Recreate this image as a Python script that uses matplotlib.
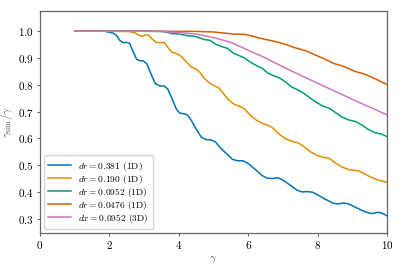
import matplotlib
matplotlib.use("Agg")
import matplotlib.pyplot as plt

plt.rcParams['font.family'] = 'serif'
plt.rcParams['font.serif'] = ['cmr10']
plt.rcParams['mathtext.fontset'] = 'cm'
plt.rcParams['axes.formatter.use_mathtext'] = True

# dr = 0.381 (1D)
x1 = [1.0, 1.5, 1.85, 2.0, 2.1, 2.2, 2.3, 2.4, 2.5, 2.58, 2.68, 2.78, 2.88, 2.98, 3.08, 3.2, 3.32,
      3.45, 3.58, 3.68, 3.8, 3.92, 4.02, 4.15, 4.25, 4.35, 4.5, 4.65, 4.78, 4.92, 5.05, 5.2, 5.4,
      5.55, 5.7, 5.85, 6.0, 6.2, 6.4, 6.55, 6.7, 6.85, 7.0, 7.2, 7.4, 7.55, 7.7, 7.85, 8.0, 8.2,
      8.45, 8.6, 8.75, 8.9, 9.1, 9.3, 9.5, 9.6, 9.75, 9.85, 10.0]
y1 = [1.0, 1.0, 1.0, 0.996, 0.993, 0.985, 0.965, 0.957, 0.958, 0.955, 0.925, 0.896, 0.890, 0.889,
      0.878, 0.84, 0.805, 0.796, 0.795, 0.785, 0.75, 0.712, 0.695, 0.692, 0.688, 0.67, 0.635, 0.605,
      0.596, 0.595, 0.588, 0.565, 0.54, 0.522, 0.517, 0.517, 0.507, 0.485, 0.462, 0.452, 0.451,
      0.454, 0.445, 0.427, 0.408, 0.401, 0.402, 0.400, 0.39, 0.375, 0.359, 0.356, 0.36, 0.356,
      0.343, 0.331, 0.321, 0.321, 0.325, 0.322, 0.312]

# dr = 0.190 (1D)
x2 = [1.0, 2.0, 2.6, 2.75, 2.85, 2.95, 3.05, 3.12, 3.22, 3.35, 3.48, 3.58, 3.68, 3.8, 3.95, 4.05,
      4.2, 4.35, 4.5, 4.6, 4.75, 4.9, 5.05, 5.15, 5.3, 5.45, 5.6, 5.75, 5.88, 6.05, 6.25, 6.45, 6.6,
      6.72, 6.9, 7.1, 7.3, 7.45, 7.6, 7.8, 8.0, 8.2, 8.35, 8.5, 8.7, 8.9, 9.1, 9.2, 9.35, 9.55,
      9.75, 10.0]
y2 = [1.0, 1.0, 0.998, 0.993, 0.985, 0.981, 0.986, 0.986, 0.972, 0.958, 0.957, 0.958, 0.94, 0.922,
      0.916, 0.908, 0.888, 0.868, 0.858, 0.848, 0.822, 0.805, 0.795, 0.789, 0.765, 0.742, 0.727,
      0.72, 0.712, 0.688, 0.667, 0.654, 0.647, 0.638, 0.615, 0.597, 0.588, 0.583, 0.57, 0.55,
      0.536, 0.529, 0.525, 0.51, 0.494, 0.484, 0.481, 0.479, 0.468, 0.455, 0.445, 0.437]

# dr = 0.0952 (1D)
x3 = [1.0, 2.5, 3.5, 3.65, 3.8, 3.95, 4.1, 4.25, 4.45, 4.6, 4.75, 4.9, 5.05, 5.25, 5.4, 5.55, 5.75,
      5.9, 6.05, 6.25, 6.4, 6.55, 6.75, 6.9, 7.05, 7.25, 7.45, 7.6, 7.75, 7.95, 8.15, 8.35, 8.5,
      8.7, 8.9, 9.1, 9.25, 9.45, 9.65, 9.85, 10.0]
y3 = [1.0, 1.0, 0.999, 0.996, 0.991, 0.99, 0.987, 0.983, 0.981, 0.975, 0.968, 0.966, 0.952, 0.942,
      0.936, 0.92, 0.908, 0.9, 0.885, 0.871, 0.862, 0.845, 0.833, 0.826, 0.813, 0.792, 0.78, 0.769,
      0.754, 0.736, 0.721, 0.712, 0.698, 0.68, 0.669, 0.663, 0.652, 0.635, 0.622, 0.616, 0.607]

# dr = 0.0476 (1D)
x4 = [1.0, 3.0, 4.5, 5.0, 5.3, 5.6, 5.9, 6.1, 6.3, 6.5, 6.7, 6.9, 7.1, 7.3, 7.5, 7.7, 7.9, 8.1, 8.3,
      8.5, 8.7, 8.9, 9.1, 9.3, 9.5, 9.7, 9.85, 10.0]
y4 = [1.0, 1.0, 0.999, 0.997, 0.993, 0.989, 0.988, 0.982, 0.975, 0.969, 0.964, 0.957, 0.95, 0.94,
      0.933, 0.925, 0.913, 0.902, 0.89, 0.878, 0.871, 0.86, 0.849, 0.842, 0.832, 0.82, 0.81, 0.801]

# dx = 0.0952 (3D)
x5 = [1.0, 3.0, 3.5, 4.0, 4.5, 5.0, 5.5, 6.0, 6.5, 7.0, 7.5, 8.0, 8.5, 9.0, 9.5, 10.0]
y5 = [1.0, 1.0, 0.999, 0.995, 0.989, 0.976, 0.958, 0.929, 0.900, 0.867, 0.836, 0.806, 0.776, 0.746,
      0.717, 0.688]

labels = [r'$dr = 0.381$ (1D)', r'$dr = 0.190$ (1D)', r'$dr = 0.0952$ (1D)',
          r'$dr = 0.0476$ (1D)', r'$dx = 0.0952$ (3D)']
colors = ['#0173b2', '#de8f05', '#029e73', '#d55e00', '#cc78bc']

fig = plt.figure(figsize=(4.03, 2.69), dpi=100)
ax = fig.add_axes([0.0993, 0.135, 0.861, 0.825])
for xs, ys, lab, c in zip([x1, x2, x3, x4, x5], [y1, y2, y3, y4, y5], labels, colors):
    ax.plot(xs, ys, color=c, lw=1.1, label=lab)

ax.set_xlim(0, 10)
ax.set_ylim(0.249, 1.076)
ax.set_xticks([0, 2, 4, 6, 8, 10])
ax.set_yticks([0.3, 0.4, 0.5, 0.6, 0.7, 0.8, 0.9, 1.0])
ax.tick_params(labelsize=8, length=2.5, width=0.6, color='#444444', pad=2)
for s in ax.spines.values():
    s.set_color('#666666')
    s.set_linewidth(0.9)
ax.set_xlabel(r'$\gamma$', fontsize=8, color='#555555', labelpad=2)
ax.set_ylabel(r'$\gamma_{\rm sim}/\gamma$', fontsize=8, color='#555555', labelpad=2)
ax.legend(loc='lower left', fontsize=6.8, frameon=True, edgecolor='#cccccc', handlelength=2.4,
          borderpad=0.45, labelspacing=0.0, borderaxespad=0.4, handletextpad=0.8)
fig.savefig('out.png', dpi=100)
